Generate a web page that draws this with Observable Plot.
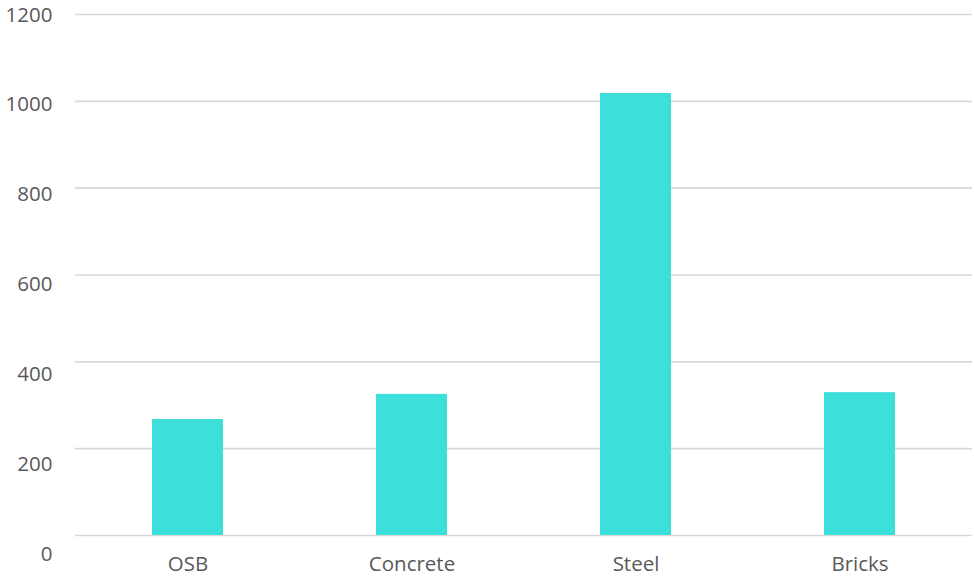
<!DOCTYPE html>
<html>
<head>
<meta charset="utf-8">
<script src="https://cdn.jsdelivr.net/npm/d3@7"></script>
<script src="https://cdn.jsdelivr.net/npm/@observablehq/plot@0.6"></script>
<style>
  html, body { margin: 0; padding: 0; background: #fff; }
  #chart { width: 974px; height: 577px; }
</style>
</head>
<body>
<div id="chart"></div>
<script>
const categories = ["OSB", "Concrete", "Steel", "Bricks"];
const values = [267, 325, 1018, 329];
const yTicks = [0, 200, 400, 600, 800, 1000, 1200];

const data = categories.map((c, i) => ({category: c, value: values[i]}));

const font = "Open Sans, sans-serif";
const textColor = "#595959";
const fs = 20.5;

// tick labels drift slightly relative to gridlines in the reference
const labelShift = v => (1200 - v) / 200 * 3.0 + 0.5;

const chart = Plot.plot({
  width: 974,
  height: 577,
  marginTop: 14,
  marginBottom: 42,
  marginLeft: 75,
  marginRight: 2,
  style: {fontFamily: font, fontSize: fs + "px", color: textColor, background: "#fff"},
  x: {domain: categories, paddingInner: 0.683, paddingOuter: 0.342, label: null},
  y: {domain: [0, 1200], label: null},
  marks: [
    Plot.gridY(yTicks, {stroke: "#d9d9d9", strokeOpacity: 1, strokeWidth: 1.6}),
    Plot.barY(data, {x: "category", y: "value", fill: "#3cdfd9"}),
    ...yTicks.map(v => Plot.axisY([v], {
      tickSize: 0, tickPadding: 23, fill: textColor, fontSize: fs,
      tickFormat: d => String(d), dy: labelShift(v), label: null
    })),
    Plot.axisX({tickSize: 0, tickPadding: 21, fill: textColor, fontSize: fs, label: null})
  ]
});

document.getElementById("chart").appendChild(chart);
</script>
</body>
</html>
